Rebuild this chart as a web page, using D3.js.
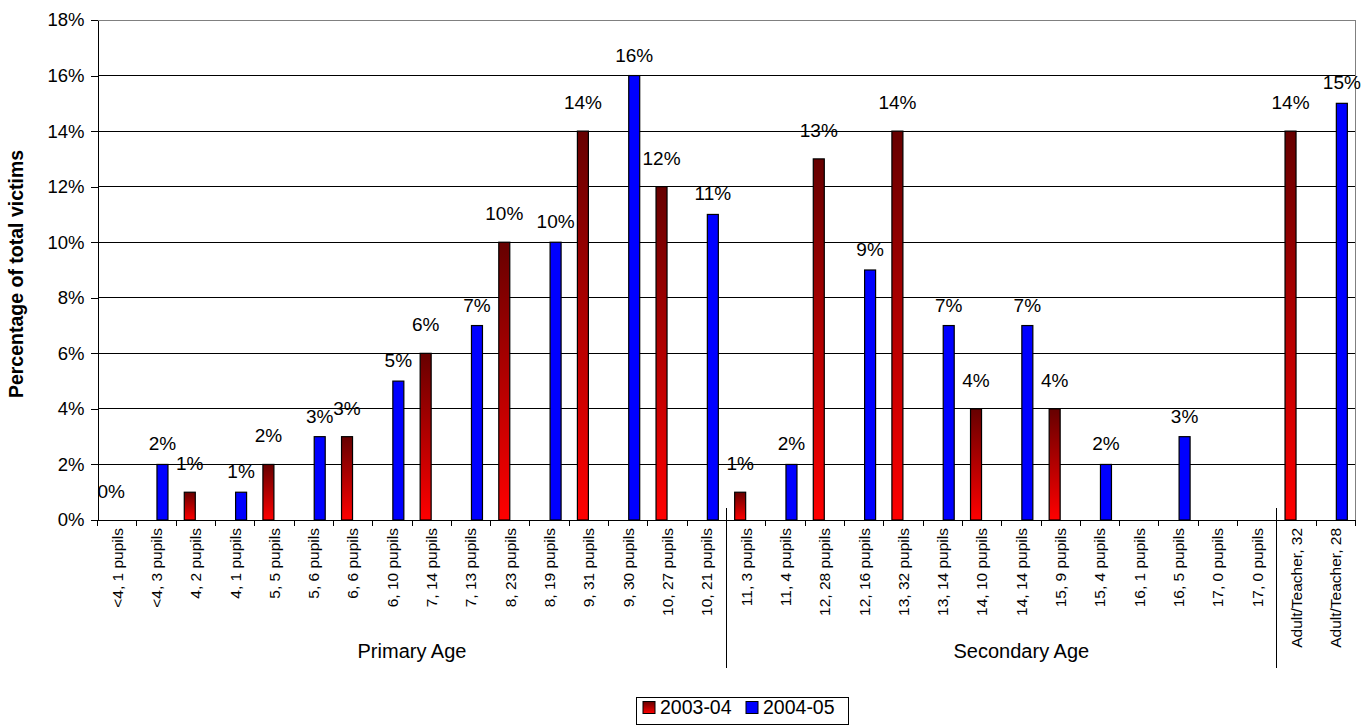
<!DOCTYPE html>
<html lang="en">
<head>
<meta charset="UTF-8">
<title>Percentage of total victims</title>
<script src="https://d3js.org/d3.v7.min.js"></script>
<style>
  body { margin: 0; background: #fff; }
  svg { display: block; font-family: "Liberation Sans", Arial, Helvetica, sans-serif; }
</style>
</head>
<body>
<div id="chart"></div>
<script>
// categories (age, pupil count) - names repeat, so bars are keyed by index
const categories = [
  "<4, 1 pupils", "<4, 3 pupils", "4, 2 pupils", "4, 1 pupils",
  "5, 5 pupils", "5, 6 pupils", "6, 6 pupils", "6, 10 pupils",
  "7, 14 pupils", "7, 13 pupils", "8, 23 pupils", "8, 19 pupils",
  "9, 31 pupils", "9, 30 pupils", "10, 27 pupils", "10, 21 pupils",
  "11, 3 pupils", "11, 4 pupils", "12, 28 pupils", "12, 16 pupils",
  "13, 32 pupils", "13, 14 pupils", "14, 10 pupils", "14, 14 pupils",
  "15, 9 pupils", "15, 4 pupils", "16, 1 pupils", "16, 5 pupils",
  "17, 0 pupils", "17, 0 pupils", "Adult/Teacher, 32", "Adult/Teacher, 28"
];
const series = ["2003-04", "2004-05"];
// percentage of total victims (null = no bar / no label)
const values0304 = [0, null, 1, null, 2, null, 3, null, 6, null, 10, null, 14, null, 12, null,
                    1, null, 13, null, 14, null, 4, null, 4, null, null, null, null, null, 14, null];
const values0405 = [null, 2, null, 1, null, 3, null, 5, null, 7, null, 10, null, 16, null, 11,
                    null, 2, null, 9, null, 7, null, 7, null, 2, null, 3, null, null, null, 15];
const yTicks = [0, 2, 4, 6, 8, 10, 12, 14, 16, 18];
const groupNames = ["Primary Age", "Secondary Age"];
const groupSpans = [[0, 15], [16, 30]];
const separators = [16, 30];

const width = 1372, height = 726;
const plotLeft = 97.5, plotRight = 1355.5, plotTop = 20, plotBottom = 520;

const svg = d3.select("#chart").append("svg")
    .attr("width", width)
    .attr("height", height);

const defs = svg.append("defs");
const grad = defs.append("linearGradient")
    .attr("id", "redGrad")
    .attr("x1", 0).attr("y1", 0).attr("x2", 0).attr("y2", 1);
grad.append("stop").attr("offset", "0%").attr("stop-color", "#660000");
grad.append("stop").attr("offset", "100%").attr("stop-color", "#ff0000");

const fills = { "2003-04": "url(#redGrad)", "2004-05": "#0000ff" };
const labelGap = { "2003-04": 22, "2004-05": 14 };

const x = d3.scaleBand()
    .domain(d3.range(categories.length))
    .range([plotLeft, plotRight])
    .padding(0);
const bw = x.bandwidth();
const x1 = d3.scaleBand()
    .domain(series)
    .range([bw / 2 - 12, bw / 2 + 12]);
const y = d3.scaleLinear().domain([0, 18]).range([plotBottom, plotTop]);

// gridlines
svg.append("g")
  .selectAll("line")
  .data(yTicks.filter(t => t > 0 && t < 18))
  .enter().append("line")
    .attr("x1", plotLeft).attr("x2", plotRight)
    .attr("y1", d => y(d)).attr("y2", d => y(d))
    .attr("stroke", "#000")
    .attr("shape-rendering", "crispEdges");

// plot frame (top + right in grey)
svg.append("path")
    .attr("d", `M${plotLeft},${plotTop}H${plotRight}V${plotBottom}`)
    .attr("fill", "none")
    .attr("stroke", "#808080")
    .attr("shape-rendering", "crispEdges");

// bars
const barData = [];
categories.forEach((c, i) => {
  if (values0304[i] !== null) barData.push({ i, s: "2003-04", v: values0304[i] });
  if (values0405[i] !== null) barData.push({ i, s: "2004-05", v: values0405[i] });
});

svg.append("g")
  .selectAll("rect")
  .data(barData.filter(d => d.v > 0))
  .enter().append("rect")
    .attr("x", d => x(d.i) + x1(d.s) + 0.5)
    .attr("width", x1.bandwidth() - 1)
    .attr("y", d => y(d.v))
    .attr("height", d => y(0) - y(d.v))
    .attr("fill", d => fills[d.s])
    .attr("stroke", "#000")
    .attr("stroke-width", 1.2);

// data labels
svg.append("g")
  .selectAll("text")
  .data(barData)
  .enter().append("text")
    .attr("x", d => x(d.i) + x1(d.s) + x1.bandwidth() / 2)
    .attr("y", d => y(d.v) - labelGap[d.s])
    .attr("text-anchor", "middle")
    .attr("font-size", 19)
    .attr("fill", "#000")
    .text(d => d.v + "%");

// y axis
const yAxis = svg.append("g")
    .attr("transform", `translate(${plotLeft},0)`)
    .call(d3.axisLeft(y).tickValues(yTicks).tickSize(7).tickSizeOuter(0).tickPadding(6)
      .tickFormat(d => d + "%"));
yAxis.attr("font-family", null);
yAxis.selectAll("text").attr("font-size", 18.5).attr("fill", "#000");
yAxis.selectAll("line,path").attr("stroke", "#000").attr("shape-rendering", "crispEdges");

// x axis line and boundary ticks
svg.append("line")
    .attr("x1", plotLeft).attr("x2", plotRight)
    .attr("y1", plotBottom).attr("y2", plotBottom)
    .attr("stroke", "#000")
    .attr("shape-rendering", "crispEdges");
svg.append("g")
  .selectAll("line")
  .data(d3.range(categories.length + 1))
  .enter().append("line")
    .attr("x1", d => plotLeft + d * bw).attr("x2", d => plotLeft + d * bw)
    .attr("y1", plotBottom).attr("y2", plotBottom + 6)
    .attr("stroke", "#000")
    .attr("shape-rendering", "crispEdges");

// category labels
svg.append("g")
  .selectAll("text")
  .data(categories)
  .enter().append("text")
    .attr("transform", (d, i) => `translate(${x(i) + bw / 2},${plotBottom + 8}) rotate(-90)`)
    .attr("dy", "0.35em")
    .attr("text-anchor", "end")
    .attr("font-size", 15.5)
    .attr("fill", "#000")
    .text(d => d);

// group separators and labels
svg.append("g")
  .selectAll("line")
  .data(separators)
  .enter().append("line")
    .attr("x1", d => x(d)).attr("x2", d => x(d))
    .attr("y1", plotBottom - 12).attr("y2", 668)
    .attr("stroke", "#000")
    .attr("shape-rendering", "crispEdges");

svg.append("g")
  .selectAll("text")
  .data(groupNames)
  .enter().append("text")
    .attr("x", (d, k) => (x(groupSpans[k][0]) + x(groupSpans[k][1]) + bw) / 2)
    .attr("y", 658)
    .attr("text-anchor", "middle")
    .attr("font-size", 20)
    .attr("fill", "#000")
    .text(d => d);

// y title
svg.append("text")
    .attr("transform", "translate(16,274) rotate(-90)")
    .attr("dy", "0.35em")
    .attr("text-anchor", "middle")
    .attr("font-size", 19.5)
    .attr("font-weight", "bold")
    .text("Percentage of total victims");

// legend
const legend = svg.append("g").attr("transform", "translate(636,697)");
legend.append("rect")
    .attr("width", 212).attr("height", 27)
    .attr("fill", "#fff").attr("stroke", "#000")
    .attr("shape-rendering", "crispEdges");
const items = legend.selectAll("g.item")
  .data(series)
  .enter().append("g")
    .attr("class", "item")
    .attr("transform", (d, k) => `translate(${7 + k * 103},4)`);
items.append("rect")
    .attr("width", 12).attr("height", 12)
    .attr("y", 0.5)
    .attr("fill", d => fills[d])
    .attr("stroke", "#000");
items.append("text")
    .attr("x", 17).attr("y", 12.5)
    .attr("font-size", 19.5)
    .attr("fill", "#000")
    .text(d => d);
</script>
</body>
</html>
